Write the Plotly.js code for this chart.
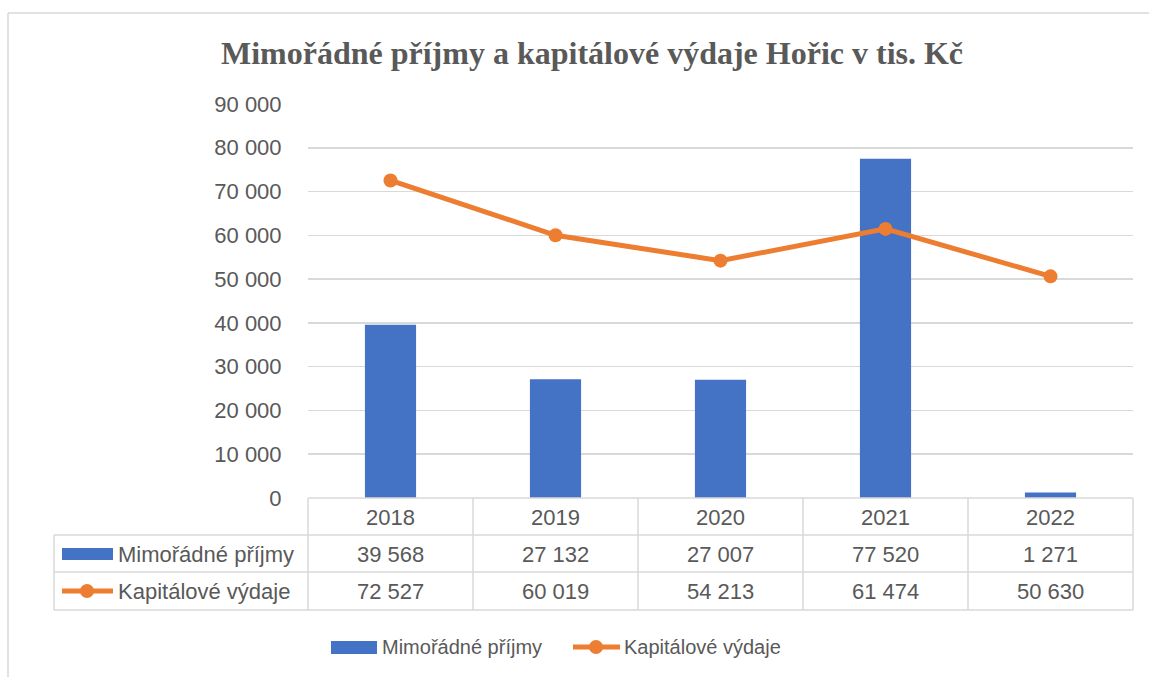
<!DOCTYPE html>
<html>
<head>
<meta charset="utf-8">
<script src="https://cdn.plot.ly/plotly-3.0.1.min.js"></script>
<style>html,body{margin:0;padding:0;background:#fff;}#chart{width:1149px;height:677px;}</style>
</head>
<body>
<div id="chart"></div>
<script>
const years = [2018, 2019, 2020, 2021, 2022];
const prijmy = [39568, 27132, 27007, 77520, 1271];
const vydaje = [72527, 60019, 54213, 61474, 50630];
const seriesNames = ['Mimořádné příjmy', 'Kapitálové výdaje'];
const yTicks = [0, 10000, 20000, 30000, 40000, 50000, 60000, 70000, 80000, 90000];

const W = 1149, H = 677;
const L = 308, R = 1133, T = 104, B = 498;
const px = x => (x - L) / (R - L);
const py = y => (B - y) / (B - T);

function fmt(v) {
  return String(v).replace(/\B(?=(\d{3})+(?!\d))/g, ' ');
}

const blue = '#4472c4', orange = '#ed7d31', grid = '#d9d9d9', txt = '#595959';
const font = 'Liberation Sans, Arial, sans-serif';

const traces = [
  {type: 'bar', x: years, y: prijmy, name: seriesNames[0], marker: {color: blue}, width: 0.31},
  {type: 'scatter', mode: 'lines+markers', x: years, y: vydaje, name: seriesNames[1],
   line: {color: orange, width: 5}, marker: {color: orange, size: 14}}
];

const shapes = [];
const annotations = [];
const lineStyle = {color: grid, width: 1.5};

// outer chart border (top and left)
shapes.push({type: 'line', xref: 'paper', yref: 'paper', x0: px(8), x1: px(1149), y0: py(13), y1: py(13), line: lineStyle});
shapes.push({type: 'line', xref: 'paper', yref: 'paper', x0: px(8), x1: px(8), y0: py(13), y1: py(677), line: lineStyle});

// data table
const rowY = [498, 535, 572, 610];
const tableLeft = 54;
shapes.push({type: 'line', xref: 'paper', yref: 'paper', x0: px(L), x1: px(R), y0: py(rowY[0]), y1: py(rowY[0]), line: lineStyle});
for (let i = 1; i < rowY.length; i++) {
  shapes.push({type: 'line', xref: 'paper', yref: 'paper', x0: px(tableLeft), x1: px(R), y0: py(rowY[i]), y1: py(rowY[i]), line: lineStyle});
}
shapes.push({type: 'line', xref: 'paper', yref: 'paper', x0: px(tableLeft), x1: px(tableLeft), y0: py(rowY[1]), y1: py(rowY[3]), line: lineStyle});
for (let i = 0; i <= years.length; i++) {
  const xv = L + i * (R - L) / years.length;
  shapes.push({type: 'line', xref: 'paper', yref: 'paper', x0: px(xv), x1: px(xv), y0: py(rowY[0]), y1: py(rowY[3]), line: lineStyle});
}
const cellFont = {family: font, size: 22, color: txt};
years.forEach((yr, i) => {
  annotations.push({x: yr, xref: 'x', y: py(517), yref: 'paper', text: String(yr), showarrow: false, font: cellFont, xanchor: 'center', yanchor: 'middle'});
  annotations.push({x: yr, xref: 'x', y: py(554), yref: 'paper', text: fmt(prijmy[i]), showarrow: false, font: cellFont, xanchor: 'center', yanchor: 'middle'});
  annotations.push({x: yr, xref: 'x', y: py(591), yref: 'paper', text: fmt(vydaje[i]), showarrow: false, font: cellFont, xanchor: 'center', yanchor: 'middle'});
});
// row keys in table
shapes.push({type: 'rect', xref: 'paper', yref: 'paper', x0: px(62), x1: px(113), y0: py(548), y1: py(560), fillcolor: blue, line: {width: 0}});
annotations.push({x: px(116), xref: 'paper', y: py(554), yref: 'paper', text: seriesNames[0], showarrow: false, font: cellFont, xanchor: 'left', yanchor: 'middle'});
shapes.push({type: 'line', xref: 'paper', yref: 'paper', x0: px(62), x1: px(113), y0: py(591), y1: py(591), line: {color: orange, width: 5}});
shapes.push({type: 'circle', xref: 'paper', yref: 'paper', x0: px(80), x1: px(94), y0: py(584), y1: py(598), fillcolor: orange, line: {width: 0}});
annotations.push({x: px(116), xref: 'paper', y: py(591), yref: 'paper', text: seriesNames[1], showarrow: false, font: cellFont, xanchor: 'left', yanchor: 'middle'});

// bottom legend
const legFont = {family: font, size: 20, color: txt};
shapes.push({type: 'rect', xref: 'paper', yref: 'paper', x0: px(331), x1: px(377), y0: py(641), y1: py(654), fillcolor: blue, line: {width: 0}});
annotations.push({x: px(380), xref: 'paper', y: py(647), yref: 'paper', text: seriesNames[0], showarrow: false, font: legFont, xanchor: 'left', yanchor: 'middle'});
shapes.push({type: 'line', xref: 'paper', yref: 'paper', x0: px(573), x1: px(620), y0: py(647), y1: py(647), line: {color: orange, width: 5}});
shapes.push({type: 'circle', xref: 'paper', yref: 'paper', x0: px(589), x1: px(603), y0: py(640), y1: py(654), fillcolor: orange, line: {width: 0}});
annotations.push({x: px(622), xref: 'paper', y: py(647), yref: 'paper', text: seriesNames[1], showarrow: false, font: legFont, xanchor: 'left', yanchor: 'middle'});

const layout = {
  width: W, height: H,
  margin: {l: L, r: W - R, t: T, b: H - B, pad: 0},
  paper_bgcolor: '#fff', plot_bgcolor: '#fff',
  showlegend: false,
  title: {text: '<b>Mimořádné příjmy a kapitálové výdaje Hořic v tis. Kč</b>', font: {family: 'Liberation Serif, Times New Roman, serif', size: 32, color: txt},
          x: 592 / W, xref: 'container', xanchor: 'center', y: 1 - 53 / H, yref: 'container', yanchor: 'middle'},
  xaxis: {type: 'linear', range: [2017.5, 2022.5], showticklabels: false, showgrid: false, zeroline: false, showline: false, ticks: '', fixedrange: true},
  yaxis: {range: [0, 90000], tickvals: yTicks, ticktext: yTicks.map(fmt), showgrid: true, gridcolor: grid, gridwidth: 1.5,
          zeroline: false, showline: false, ticks: 'outside', ticklen: 21, tickcolor: 'rgba(0,0,0,0)',
          tickfont: {family: font, size: 22, color: txt}, fixedrange: true},
  shapes: shapes,
  annotations: annotations
};

Plotly.newPlot('chart', traces, layout, {displayModeBar: false, staticPlot: true});
</script>
</body>
</html>
